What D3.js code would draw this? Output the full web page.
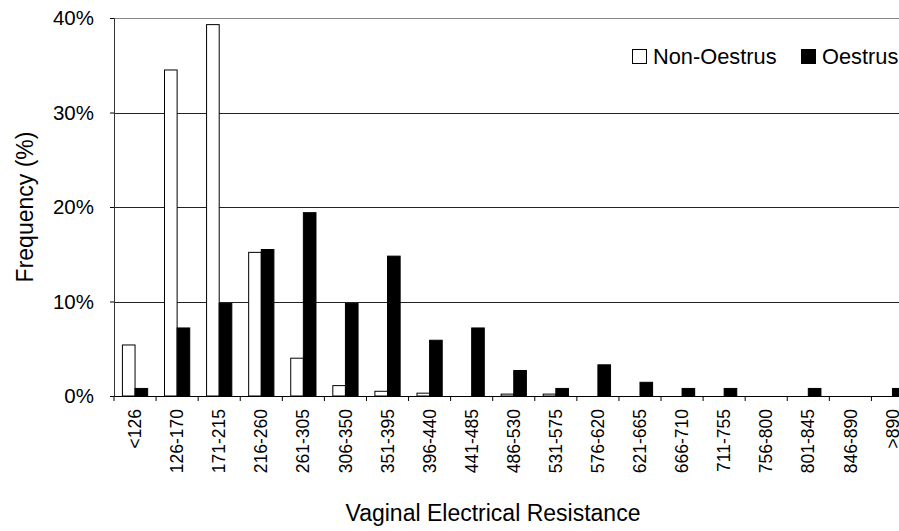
<!DOCTYPE html>
<html lang="en">
<head>
  <meta charset="UTF-8" />
  <title>Vaginal Electrical Resistance</title>
  <script src="https://d3js.org/d3.v7.min.js"></script>
  <style>
    body {
      margin: 0;
      background: #fff;
      font-family: 'Liberation Sans', Arial, sans-serif;
    }
    svg { display: block; }
  </style>
</head>
<body>
  <div id="chart"></div>

  <script>
    const categories = ["<126", "126-170", "171-215", "216-260", "261-305", "306-350", "351-395",
      "396-440", "441-485", "486-530", "531-575", "576-620", "621-665", "666-710", "711-755",
      "756-800", "801-845", "846-890", ">890"];
    const series = ["Non-Oestrus", "Oestrus"];
    const nonOestrus = [5.4, 34.5, 39.3, 15.2, 4.0, 1.1, 0.5, 0.3, 0, 0.2, 0.2, 0, 0, 0, 0, 0, 0, 0, 0];
    const oestrus = [0.8, 7.2, 9.8, 15.5, 19.4, 9.8, 14.8, 5.9, 7.2, 2.7, 0.8, 3.3, 1.45, 0.8, 0.8, 0, 0.8, 0, 0.8];
    const yTicks = [0, 10, 20, 30, 40];

    const width = 899, height = 531;
    const plotLeft = 114, plotRight = 913.5, plotTop = 18, plotBottom = 396;

    const svg = d3.select("#chart").append("svg")
      .attr("width", width)
      .attr("height", height);

    const x = d3.scaleBand().domain(categories).range([plotLeft, plotRight]).padding(0);
    const bw = x.bandwidth();
    const x1 = d3.scaleBand().domain(series).range([0.2 * bw, 0.8 * bw]).padding(0);
    const y = d3.scaleLinear().domain([0, 40]).range([plotBottom, plotTop]);

    // gridlines
    svg.append("g")
      .selectAll("line")
      .data(yTicks.filter(d => d > 0))
      .join("line")
      .attr("x1", plotLeft).attr("x2", plotRight)
      .attr("y1", d => Math.round(y(d)) + 0.5).attr("y2", d => Math.round(y(d)) + 0.5)
      .attr("stroke", d => d === 40 ? "#888" : "#222")
      .attr("stroke-width", 1);

    // bars
    const data = categories.map((c, i) => ({ cat: c, vals: [nonOestrus[i], oestrus[i]] }));
    const groups = svg.append("g")
      .selectAll("g")
      .data(data)
      .join("g")
      .attr("transform", d => `translate(${x(d.cat)},0)`);

    groups.selectAll("rect")
      .data(d => d.vals.map((v, j) => ({ s: series[j], v: v })).filter(e => e.v > 0))
      .join("rect")
      .attr("x", d => x1(d.s))
      .attr("width", x1.bandwidth())
      .attr("y", d => y(d.v))
      .attr("height", d => y(0) - y(d.v))
      .attr("fill", d => d.s === "Oestrus" ? "#000" : "#fff")
      .attr("stroke", "#000")
      .attr("stroke-width", 1);

    // y axis
    const yAxis = svg.append("g")
      .attr("transform", `translate(${plotLeft},0)`)
      .call(d3.axisLeft(y).tickValues(yTicks).tickFormat(d => d + "%").tickSize(4).tickPadding(16));
    yAxis.select(".domain").attr("stroke", "#333");
    yAxis.selectAll("text").attr("font-size", 20.5).attr("fill", "#000")
      .attr("font-family", "'Liberation Sans', Arial, sans-serif");

    // x axis
    const xAxis = svg.append("g")
      .attr("transform", `translate(0,${plotBottom})`)
      .call(d3.axisBottom(x).tickSize(0).tickSizeOuter(0));
    xAxis.select(".domain").attr("stroke", "#000");
    xAxis.selectAll(".tick text")
      .attr("font-size", 17.5)
      .attr("font-family", "'Liberation Sans', Arial, sans-serif")
      .attr("fill", "#000")
      .attr("text-anchor", "end")
      .attr("transform", "rotate(-90)")
      .attr("x", -13)
      .attr("y", 0)
      .attr("dy", "0.35em");

    // x tick marks between categories
    svg.append("g")
      .selectAll("line")
      .data(d3.range(categories.length + 1))
      .join("line")
      .attr("x1", i => plotLeft + i * bw).attr("x2", i => plotLeft + i * bw)
      .attr("y1", plotBottom).attr("y2", plotBottom + 5)
      .attr("stroke", "#000");

    // axis titles
    svg.append("text")
      .attr("x", 493).attr("y", 521)
      .attr("text-anchor", "middle")
      .attr("font-size", 23)
      .text("Vaginal Electrical Resistance");

    svg.append("text")
      .attr("transform", `translate(33,${(plotTop + plotBottom) / 2}) rotate(-90)`)
      .attr("text-anchor", "middle")
      .attr("font-size", 23)
      .text("Frequency (%)");

    // legend
    const legend = svg.append("g").attr("transform", "translate(632,49)");
    const legendX = [0, 169];
    series.forEach((s, i) => {
      const g = legend.append("g").attr("transform", `translate(${legendX[i]},0)`);
      g.append("rect")
        .attr("x", 0.5).attr("y", 0.5)
        .attr("width", 14).attr("height", 14)
        .attr("fill", i === 1 ? "#000" : "#fff")
        .attr("stroke", "#000");
      g.append("text")
        .attr("x", 21).attr("y", 14.5)
        .attr("font-size", 21.8)
        .text(s);
    });
  </script>
</body>
</html>
